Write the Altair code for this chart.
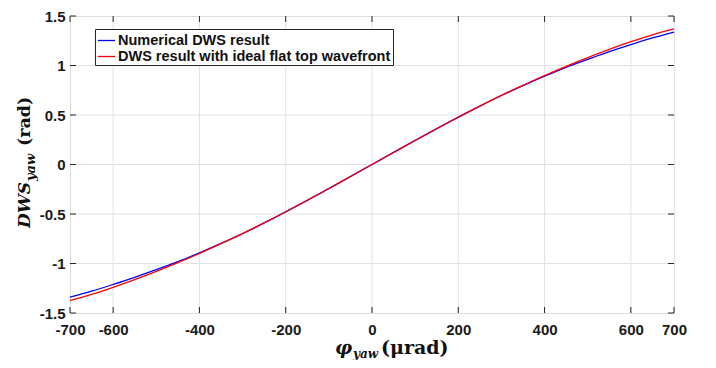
import altair as alt
import pandas as pd

# ---- data ----
x_vals = [-700, -650, -600, -550, -500, -450, -400, -350, -300, -250, -200, -150, -100, -50,
          0, 50, 100, 150, 200, 250, 300, 350, 400, 450, 500, 550, 600, 650, 700]
blue = [-1.340, -1.280, -1.212, -1.140, -1.062, -0.982, -0.892, -0.797, -0.697, -0.590,
        -0.478, -0.362, -0.243, -0.122, 0.0, 0.122, 0.243, 0.362, 0.478, 0.590, 0.697,
        0.797, 0.892, 0.982, 1.062, 1.140, 1.212, 1.278, 1.338]
red = [-1.375, -1.312, -1.240, -1.163, -1.080, -0.992, -0.899, -0.800, -0.698, -0.590,
       -0.477, -0.361, -0.242, -0.121, 0.0, 0.121, 0.242, 0.361, 0.477, 0.590, 0.698,
       0.800, 0.899, 0.992, 1.080, 1.163, 1.240, 1.310, 1.370]
series_names = ["Numerical DWS result", "DWS result with ideal flat top wavefront"]
series_colors = ["#0000ff", "#ff0000"]
x_ticks = [-700, -600, -400, -200, 0, 200, 400, 600, 700]
x_grid = [-600, -400, -200, 0, 200, 400, 600]
y_ticks = [-1.5, -1, -0.5, 0, 0.5, 1, 1.5]
y_grid = [-1, -0.5, 0, 0.5, 1]

W, H = 604, 297
AX = "#262626"
LABEL_FONT = "Liberation Sans"
TITLE_FONT = "DejaVu Serif"

df = pd.DataFrame({
    "x": x_vals * 2,
    "y": blue + red,
    "s": [series_names[0]] * len(x_vals) + [series_names[1]] * len(x_vals),
})

xs = alt.Scale(domain=[-700, 700], nice=False, zero=False)
ys = alt.Scale(domain=[-1.5, 1.5], nice=False, zero=False)

axis_common = dict(title=None, grid=False, ticks=False, domain=False, tickSize=0,
                   labelFont=LABEL_FONT, labelFontSize=15, labelFontWeight="bold",
                   labelColor="#1a1a1a", labelOverlap=False, labelFlush=False,
                   labelBound=False, labelExpr="datum.value + ''")
XAX = alt.Axis(values=x_ticks, labelPadding=9, **axis_common)
YAX = alt.Axis(values=y_ticks, labelPadding=5, **axis_common)

# grid lines
gx = alt.Chart(pd.DataFrame({"x": x_grid})).mark_rule(color="#e0e0e0", strokeWidth=1).encode(
    x=alt.X("x:Q", scale=xs, axis=XAX))
gy = alt.Chart(pd.DataFrame({"y": y_grid})).mark_rule(color="#e0e0e0", strokeWidth=1).encode(
    y=alt.Y("y:Q", scale=ys, axis=YAX))

lines = alt.Chart(df).mark_line(strokeWidth=1.3, interpolate="monotone").encode(
    x=alt.X("x:Q", scale=xs, axis=XAX),
    y=alt.Y("y:Q", scale=ys, axis=YAX),
    color=alt.Color("s:N", scale=alt.Scale(domain=series_names, range=series_colors),
                    legend=alt.Legend(title=None, orient="none", legendX=25, legendY=13,
                                      symbolType="stroke", symbolSize=289,
                                      symbolStrokeWidth=1.3, labelOffset=2,
                                      labelFont=LABEL_FONT, labelFontSize=14.5,
                                      labelFontWeight="bold", labelColor="#111111",
                                      labelLimit=500, rowPadding=0, padding=2,
                                      strokeColor=AX, fillColor="white",
                                      cornerRadius=0)),
    order=alt.Order("x:Q"),
)

# inward ticks on all four sides
xt = pd.DataFrame({"x": x_ticks})
yt = pd.DataFrame({"y": y_ticks})
tb = alt.Chart(xt).mark_rule(color=AX).encode(x=alt.X("x:Q", scale=xs, axis=XAX),
                                              y=alt.value(H), y2=alt.value(H - 6))
tt = alt.Chart(xt).mark_rule(color=AX).encode(x=alt.X("x:Q", scale=xs, axis=XAX),
                                              y=alt.value(0), y2=alt.value(6))
tl = alt.Chart(yt).mark_rule(color=AX).encode(y=alt.Y("y:Q", scale=ys, axis=YAX),
                                              x=alt.value(0), x2=alt.value(6))
tr = alt.Chart(yt).mark_rule(color=AX).encode(y=alt.Y("y:Q", scale=ys, axis=YAX),
                                              x=alt.value(W), x2=alt.value(W - 6))


def txt(s, x, y, size, style="normal", angle=0):
    return alt.Chart(pd.DataFrame({"t": [s]})).mark_text(
        font=TITLE_FONT, fontSize=size, fontWeight="bold", fontStyle=style,
        align="left", baseline="alphabetic", angle=angle, color="#111111"
    ).encode(text="t:N", x=alt.value(x), y=alt.value(y))


titles = [
    txt("φ", 265, 338, 19, "italic"),
    txt("yaw", 283, 342, 12, "italic"),
    txt("(μrad)", 311, 338, 19),
    txt("DWS", -40, 212, 17, "italic", 270),
    txt("yaw", -35, 165, 13, "italic", 270),
    txt("(rad)", -40, 130, 17.5, "normal", 270),
]

chart = alt.layer(gx, gy, lines, tb, tt, tl, tr, *titles).properties(
    width=W, height=H,
    autosize=alt.AutoSizeParams(type="none"),
    padding={"left": 62, "top": 8, "right": 34, "bottom": 47},
).configure_view(stroke=AX, strokeWidth=1).configure(background="white")

chart.save("out.html", embed_options={"renderer": "svg", "actions": False})
